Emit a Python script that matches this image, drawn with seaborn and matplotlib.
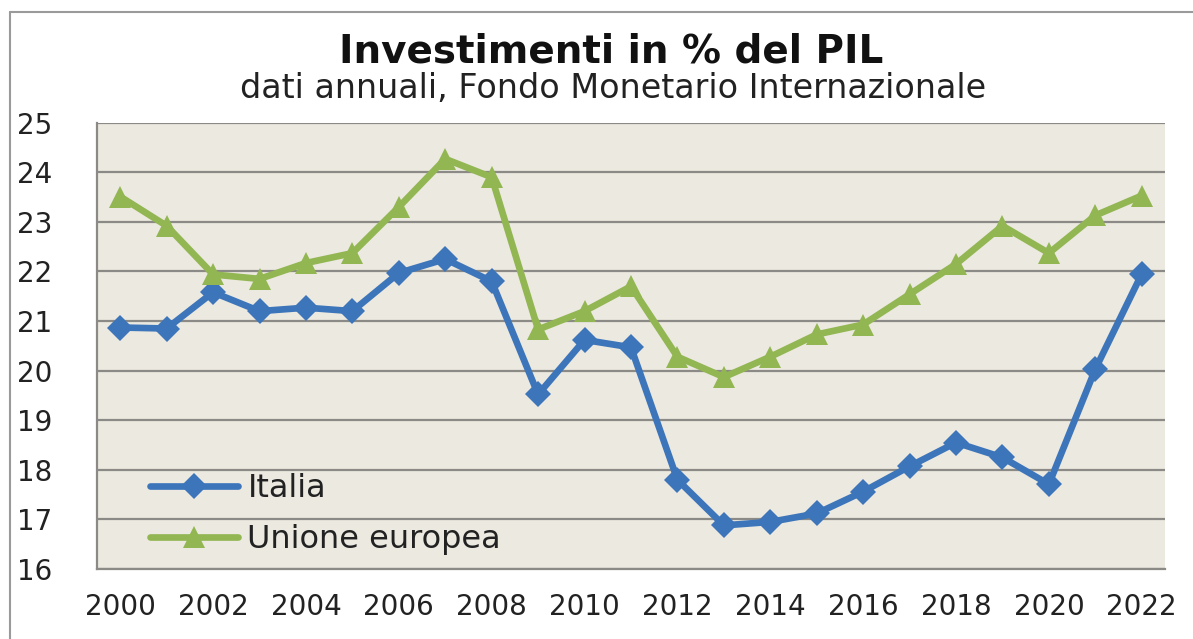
import numpy as np
import pandas as pd
import seaborn as sns
import matplotlib.pyplot as plt
from matplotlib.lines import Line2D

# data
anni = list(range(2000, 2023))
italia = [20.87, 20.85, 21.58, 21.2, 21.27, 21.2, 21.97, 22.25, 21.8, 19.52, 20.62, 20.47,
          17.8, 16.88, 16.95, 17.12, 17.56, 18.07, 18.55, 18.25, 17.71, 20.03, 21.95]
ue = [23.51, 22.92, 21.94, 21.85, 22.17, 22.37, 23.3, 24.27, 23.9, 20.83, 21.2, 21.7,
      20.28, 19.87, 20.28, 20.73, 20.93, 21.54, 22.15, 22.92, 22.37, 23.13, 23.53]
anni_etichette = list(range(2000, 2023, 2))

BLU = '#3D75BA'
VERDE = '#91B652'
GRIGIO = '#8C8A86'
TESTO = '#222222'

sns.set_style('white')
plt.rcParams['font.family'] = ['DejaVu Sans']

fig = plt.figure(figsize=(11.93, 6.39), dpi=100)
ax = fig.add_axes([0.0813, 0.1095, 0.8952, 0.6985])
ax.set_facecolor('#ECE9E0')

sns.lineplot(x=anni, y=italia, ax=ax, color=BLU, linewidth=4.8, marker='D',
             markersize=13, markeredgewidth=0, label='Italia')
sns.lineplot(x=anni, y=ue, ax=ax, color=VERDE, linewidth=4.8, marker='^',
             markersize=16, markeredgewidth=0, label='Unione europea')

ax.set_xlim(1999.5, 2022.5)
ax.set_ylim(16, 25)
ax.set_yticks(range(16, 26))
ax.set_xticks(anni_etichette)
ax.set_xticks(np.arange(1999.5, 2023, 1), minor=True)
ax.grid(axis='y', color=GRIGIO, linewidth=1.6)
ax.set_axisbelow(True)

for s in ['top', 'right']:
    ax.spines[s].set_visible(False)
for s in ['left', 'bottom']:
    ax.spines[s].set_color(GRIGIO)
    ax.spines[s].set_linewidth(1.6)

ax.tick_params(axis='x', which='major', length=0, pad=17, labelsize=20)
ax.tick_params(axis='x', which='minor', length=7, width=1.4, color=GRIGIO, direction='out')
ax.tick_params(axis='y', length=9, width=1.6, color=GRIGIO, pad=23, labelsize=20)
for t in ax.get_yticklabels() + ax.get_xticklabels():
    t.set_color(TESTO)

handles = [Line2D([], [], color=BLU, linewidth=4.8, marker='D', markersize=13, markeredgewidth=0),
           Line2D([], [], color=VERDE, linewidth=4.8, marker='^', markersize=16, markeredgewidth=0)]
ax.legend(handles, ['Italia', 'Unione europea'], loc='upper left',
          bbox_to_anchor=(0.0496, 0.215), borderpad=0, borderaxespad=0, frameon=False,
          fontsize=23, handlelength=2.75, handletextpad=0.3, labelspacing=0.62,
          labelcolor=TESTO)

fig.text(0.512, 0.92, 'Investimenti in % del PIL', ha='center', va='center',
         fontsize=28, fontweight='bold', color='#111111')
fig.text(0.514, 0.861, 'dati annuali, Fondo Monetario Internazionale', ha='center',
         va='center', fontsize=24, color=TESTO)

# bordo dell'area del grafico
fig.add_artist(Line2D([0.0085, 0.0085], [0.0, 0.981], color='#9a9a9a', linewidth=1.5))
fig.add_artist(Line2D([0.0085, 1.0], [0.981, 0.981], color='#9a9a9a', linewidth=1.5))

fig.savefig('out.png', dpi=100, facecolor='white')
